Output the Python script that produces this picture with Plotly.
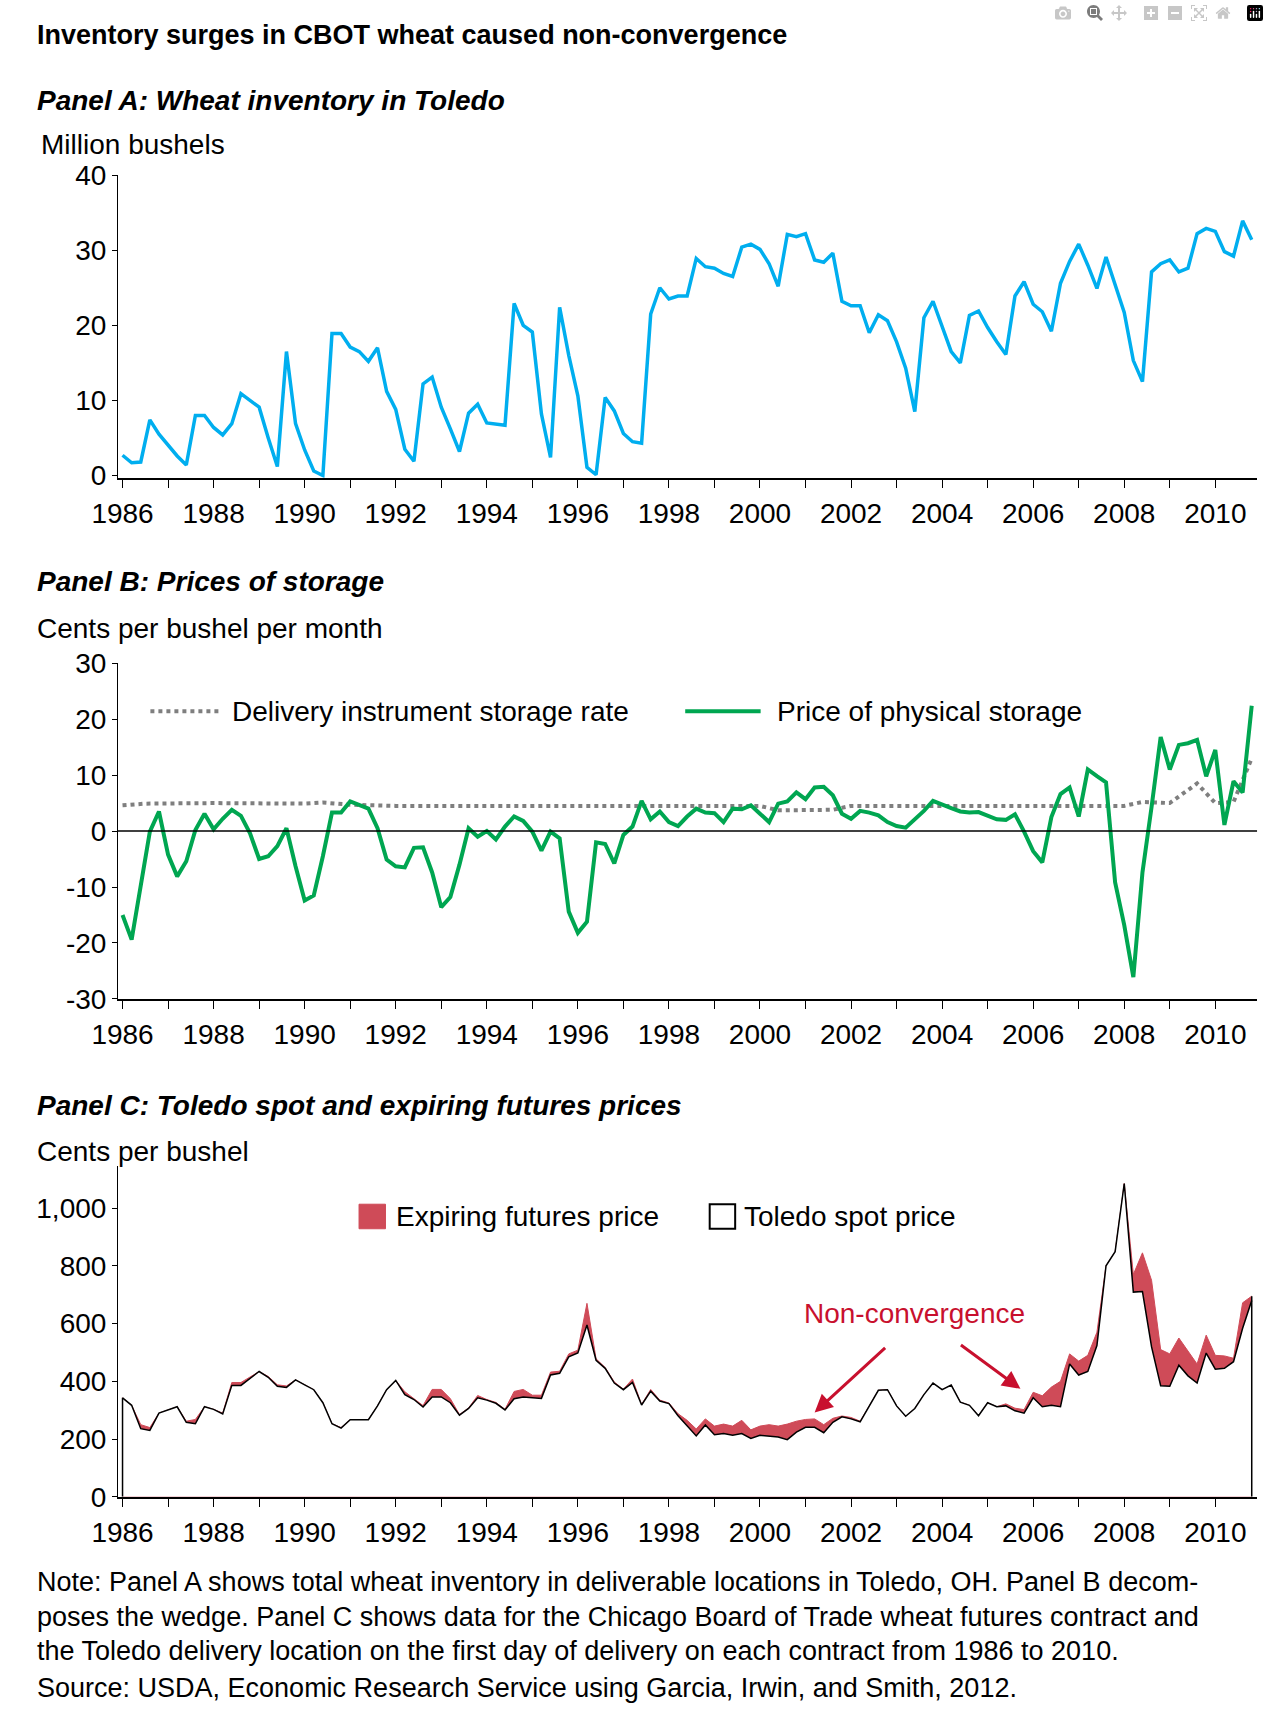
import plotly.graph_objects as go

# Panel A
inv_year = [1986.0,1986.2,1986.4,1986.6,1986.8,1987.0,1987.2,1987.4,1987.6,1987.8,1988.0,1988.2,1988.4,1988.6,1989.0,1989.2,1989.4,1989.6,1989.8,1990.0,1990.2,1990.4,1990.6,1990.8,1991.0,1991.2,1991.4,1991.6,1991.8,1992.0,1992.2,1992.4,1992.6,1992.8,1993.0,1993.2,1993.4,1993.6,1993.8,1994.0,1994.2,1994.4,1994.6,1994.8,1995.0,1995.2,1995.4,1995.6,1995.8,1996.0,1996.2,1996.4,1996.6,1996.8,1997.0,1997.2,1997.4,1997.6,1997.8,1998.0,1998.2,1998.4,1998.6,1998.8,1999.0,1999.2,1999.4,1999.6,1999.8,2000.0,2000.2,2000.4,2000.6,2000.8,2001.0,2001.2,2001.4,2001.6,2001.8,2002.0,2002.2,2002.4,2002.6,2002.8,2003.0,2003.2,2003.4,2003.6,2003.8,2004.0,2004.2,2004.4,2004.6,2004.8,2005.0,2005.2,2005.4,2005.6,2005.8,2006.0,2006.2,2006.4,2006.6,2006.8,2007.0,2007.2,2007.4,2007.6,2007.8,2008.0,2008.2,2008.4,2008.6,2008.8,2009.0,2009.2,2009.4,2009.6,2009.8,2010.0,2010.2,2010.4,2010.6,2010.8]
inventory = [2.7,1.7,1.8,7.4,5.5,4.0,2.6,1.4,8.0,8.0,6.4,5.4,6.9,10.9,9.1,5.0,1.2,16.5,6.9,3.4,0.6,0.0,18.9,18.9,17.1,16.5,15.2,17.0,11.2,8.8,3.5,1.9,12.2,13.1,9.1,6.2,3.2,8.3,9.5,7.0,6.8,6.7,22.9,20.0,19.1,8.2,2.4,22.4,16.0,10.6,1.1,0.1,10.4,8.6,5.6,4.5,4.3,21.5,25.0,23.5,23.9,23.9,28.9,27.8,27.6,26.9,26.5,30.4,30.8,30.1,28.2,25.2,32.1,31.8,32.2,28.7,28.4,29.6,23.2,22.6,22.6,19.0,21.4,20.6,17.8,14.3,8.5,21.0,23.2,20.0,16.5,15.0,21.3,21.9,19.7,17.8,16.1,23.9,25.8,22.8,21.8,19.2,25.6,28.5,30.8,28.0,24.9,29.1,25.4,21.7,15.3,12.5,27.1,28.2,28.7,27.1,27.6,32.2,32.9,32.5,29.8,29.2,33.9,31.4]

# Panel B
stor_year = [1986.0,1986.2,1986.6,1986.8,1987.0,1987.2,1987.4,1987.6,1987.8,1988.0,1988.2,1988.4,1988.6,1988.8,1989.0,1989.2,1989.4,1989.6,1989.8,1990.0,1990.2,1990.4,1990.6,1990.8,1991.0,1991.2,1991.4,1991.6,1991.8,1992.0,1992.2,1992.4,1992.6,1992.8,1993.0,1993.2,1993.4,1993.6,1993.8,1994.0,1994.2,1994.4,1994.6,1994.8,1995.0,1995.2,1995.4,1995.6,1995.8,1996.0,1996.2,1996.4,1996.6,1996.8,1997.0,1997.2,1997.4,1997.6,1997.8,1998.0,1998.2,1998.4,1998.6,1998.8,1999.0,1999.2,1999.4,1999.6,1999.8,2000.0,2000.2,2000.4,2000.6,2000.8,2001.0,2001.2,2001.4,2001.6,2001.8,2002.0,2002.2,2002.4,2002.6,2002.8,2003.0,2003.2,2003.4,2003.6,2003.8,2004.0,2004.2,2004.4,2004.6,2004.8,2005.0,2005.2,2005.4,2005.6,2005.8,2006.0,2006.2,2006.4,2006.6,2006.8,2007.0,2007.2,2007.4,2007.6,2007.8,2008.0,2008.2,2008.4,2008.6,2008.8,2009.0,2009.2,2009.4,2009.6,2009.8,2010.0,2010.2,2010.4,2010.6,2010.8]
physical_storage = [-15.0,-19.4,-0.1,3.5,-4.2,-8.1,-5.4,0.2,3.1,0.3,2.2,3.8,2.7,-0.4,-5.0,-4.5,-2.7,0.5,-6.3,-12.4,-11.5,-4.5,3.3,3.3,5.3,4.6,4.0,0.5,-5.1,-6.3,-6.5,-3.0,-2.9,-7.4,-13.6,-11.8,-6.0,0.5,-1.0,0.0,-1.5,0.8,2.6,1.8,-0.1,-3.5,-0.1,-1.3,-14.4,-18.2,-16.2,-2.0,-2.3,-5.8,-0.7,0.8,5.4,2.1,3.5,1.6,0.9,2.6,4.0,3.3,3.2,1.6,4.0,3.9,4.6,3.1,1.6,4.9,5.3,6.9,5.7,7.8,7.9,6.4,3.1,2.2,3.6,3.3,2.8,1.6,0.9,0.6,2.1,3.6,5.4,4.7,4.1,3.5,3.3,3.4,2.8,2.1,2.0,3.0,-0.1,-3.6,-5.6,2.5,6.6,7.8,2.6,11.0,9.8,8.7,-9.2,-16.8,-26.1,-7.4,4.3,16.8,11.0,15.4,15.7,16.3,9.8,14.5,1.1,8.9,6.9,22.4]
rate_year = [1986.0,1986.5,1988.0,1990.0,1990.4,1991.0,1992.0,1994.0,1996.0,1996.6,1998.0,2000.0,2000.4,2001.6,2002.0,2004.0,2006.0,2008.0,2008.4,2009.0,2009.6,2010.0,2010.4,2010.8]
delivery_rate = [4.6,4.9,5.0,4.9,5.1,4.7,4.5,4.5,4.5,4.6,4.5,4.5,3.7,3.8,4.5,4.5,4.5,4.5,5.2,5.0,8.5,5.0,5.2,13.0]

# Panel C
price_year = [1986.0,1986.2,1986.4,1986.6,1986.8,1987.0,1987.2,1987.4,1987.6,1987.8,1988.0,1988.2,1988.4,1988.6,1988.8,1989.0,1989.2,1989.4,1989.6,1989.8,1990.0,1990.2,1990.4,1990.6,1990.8,1991.0,1991.2,1991.4,1991.6,1991.8,1992.0,1992.2,1992.4,1992.6,1992.8,1993.0,1993.2,1993.4,1993.6,1993.8,1994.0,1994.2,1994.4,1994.6,1994.8,1995.0,1995.2,1995.4,1995.6,1995.8,1996.0,1996.2,1996.4,1996.6,1996.8,1997.0,1997.2,1997.4,1997.6,1997.8,1998.0,1998.2,1998.4,1998.6,1998.8,1999.0,1999.2,1999.4,1999.6,1999.8,2000.0,2000.2,2000.4,2000.6,2000.8,2001.0,2001.2,2001.4,2001.6,2001.8,2002.0,2002.2,2002.4,2002.6,2002.8,2003.0,2003.2,2003.4,2003.6,2003.8,2004.0,2004.2,2004.4,2004.6,2004.8,2005.0,2005.2,2005.4,2005.6,2005.8,2006.0,2006.2,2006.4,2006.6,2006.8,2007.0,2007.2,2007.4,2007.6,2007.8,2008.0,2008.2,2008.4,2008.6,2008.8,2009.0,2009.2,2009.4,2009.6,2009.8,2010.0,2010.2,2010.4,2010.6,2010.8]
spot_price = [343,317,236,230,290,301,312,258,253,312,303,287,386,386,411,434,414,383,379,405,388,371,326,253,238,267,267,267,315,371,403,354,337,311,346,346,326,283,306,343,335,324,301,340,346,343,341,422,428,485,498,595,473,445,394,371,396,318,366,332,323,281,247,211,249,215,219,213,219,202,213,210,207,198,224,241,241,222,258,277,270,260,315,369,371,315,279,306,354,394,371,387,328,317,281,326,312,315,298,290,343,312,317,312,460,422,434,524,800,849,1085,709,711,519,385,383,456,419,394,498,442,445,468,584,680]
futures_price = [343,317,250,240,290,301,312,262,268,312,303,290,396,396,415,434,417,388,384,405,388,371,326,253,240,267,267,267,315,371,403,364,340,316,372,372,340,285,308,351,337,327,303,365,372,352,352,432,435,495,508,670,478,448,398,373,408,320,372,335,325,288,265,235,270,245,252,245,265,232,245,250,245,252,262,268,270,250,272,280,275,262,315,369,371,315,279,306,354,394,371,387,328,317,281,326,312,322,307,302,362,350,380,400,495,470,490,570,800,849,1085,770,845,750,510,495,550,505,460,560,490,488,480,672,695]

legend_b = ["Delivery instrument storage rate", "Price of physical storage"]
legend_c = ["Expiring futures price", "Toledo spot price"]

FONT = "Liberation Sans, Arial, Helvetica, sans-serif"
W, H = 1269, 1723
XR = [1985.9, 2010.92]
TXT = 28

def px(x): return x / W
def py(y): return 1 - y / H

fig = go.Figure()
fig.add_trace(go.Scatter(x=inv_year, y=inventory, mode="lines", line=dict(color="#00aeef", width=3.5),
                         xaxis="x", yaxis="y", showlegend=False))
fig.add_trace(go.Scatter(x=rate_year, y=delivery_rate, mode="lines", line=dict(color="#7f7f7f", width=4, dash="dot"),
                         xaxis="x2", yaxis="y2", showlegend=False))
fig.add_trace(go.Scatter(x=stor_year, y=physical_storage, mode="lines", line=dict(color="#00a651", width=4),
                         xaxis="x2", yaxis="y2", showlegend=False))
fig.add_trace(go.Scatter(x=price_year, y=futures_price, mode="lines", fill="tozeroy", fillcolor="#cf4b58",
                         line=dict(color="#cf4b58", width=1), xaxis="x3", yaxis="y3", showlegend=False))
fig.add_trace(go.Scatter(x=price_year, y=spot_price, mode="lines", fill="tozeroy", fillcolor="white",
                         line=dict(color="black", width=1.5), xaxis="x3", yaxis="y3", showlegend=False))
fig.add_trace(go.Scatter(x=[price_year[0], price_year[0]], y=[0, spot_price[0]], mode="lines",
                         line=dict(color="black", width=1.5), xaxis="x3", yaxis="y3", showlegend=False))
fig.add_trace(go.Scatter(x=[price_year[-1], price_year[-1]], y=[0, futures_price[-1]], mode="lines",
                         line=dict(color="black", width=1.5), xaxis="x3", yaxis="y3", showlegend=False))

def xax(anchor):
    return dict(range=XR, domain=[0.074, 0.9905], anchor=anchor, tickvals=list(range(1986, 2011, 2)),
                ticks="outside", ticklen=8, tickcolor="black", showline=True, linecolor="black", linewidth=1.5,
                showgrid=False, zeroline=False, tickfont=dict(size=TXT, color="black"), ticklabelstandoff=2,
                minor=dict(tickvals=list(range(1987, 2011, 2)), ticks="outside", ticklen=8, tickcolor="black"))

def yax(anchor, rng, dom, tv, tt):
    return dict(range=rng, domain=dom, anchor=anchor, tickvals=tv, ticktext=tt, ticks="outside", ticklen=5,
                tickcolor="black", showline=True, linecolor="black", linewidth=1, showgrid=False, zeroline=False,
                tickfont=dict(size=TXT, color="black"))

fig.update_layout(
    width=W, height=H, margin=dict(l=0, r=0, t=0, b=0), paper_bgcolor="white", plot_bgcolor="white",
    font=dict(family=FONT, color="black"), showlegend=False,
    xaxis=xax("y"), yaxis=yax("x", [-0.3, 40], [0.7265, 0.9054], [0, 10, 20, 30, 40], ["0", "10", "20", "30", "40"]),
    xaxis2=xax("y2"), yaxis2=yax("x2", [-30, 30], [0.4185, 0.6169], [-30, -20, -10, 0, 10, 20, 30],
                                  ["-30", "-20", "-10", "0", "10", "20", "30"]),
    xaxis3=xax("y3"), yaxis3=yax("x3", [0, 1146], [0.1242, 0.3198], [0, 200, 400, 600, 800, 1000],
                                  ["0", "200", "400", "600", "800", "1,000"]),
)
fig.add_shape(type="line", xref="x2", yref="y2", x0=XR[0], x1=XR[1], y0=0, y1=0, line=dict(color="black", width=1.5))

# legend panel B
fig.add_shape(type="line", xref="paper", yref="paper", x0=px(127), x1=px(199), y0=py(709), y1=py(709),
              line=dict(color="#7f7f7f", width=4, dash="dot"))
fig.add_shape(type="line", xref="paper", yref="paper", x0=px(673), x1=px(750), y0=py(709), y1=py(709),
              line=dict(color="#00a651", width=4))
fig.add_annotation(text=legend_b[0], xref="paper", yref="paper", x=px(208), y=py(709), xanchor="left",
                   yanchor="middle", showarrow=False, font=dict(size=TXT))
fig.add_annotation(text=legend_b[1], xref="paper", yref="paper", x=px(765), y=py(709), xanchor="left",
                   yanchor="middle", showarrow=False, font=dict(size=TXT))
# legend panel C
fig.add_shape(type="rect", xref="paper", yref="paper", x0=px(340), x1=px(367), y0=py(1236), y1=py(1211),
              fillcolor="#cf4b58", line=dict(color="#cf4b58", width=1))
fig.add_shape(type="rect", xref="paper", yref="paper", x0=px(698), x1=px(724), y0=py(1236), y1=py(1211),
              fillcolor="white", line=dict(color="black", width=2))
fig.add_annotation(text=legend_c[0], xref="paper", yref="paper", x=px(376), y=py(1224), xanchor="left",
                   yanchor="middle", showarrow=False, font=dict(size=TXT))
fig.add_annotation(text=legend_c[1], xref="paper", yref="paper", x=px(731), y=py(1224), xanchor="left",
                   yanchor="middle", showarrow=False, font=dict(size=TXT))

texts = [
    ("Inventory surges in CBOT wheat caused non-convergence", 20, "<b>%s</b>", 27, 9),
    ("Panel A: Wheat inventory in Toledo", 87, "<b><i>%s</i></b>", 28, 9),
    ("Million bushels", 132, "%s", TXT, 13),
    ("Panel B: Prices of storage", 577, "<b><i>%s</i></b>", 28, 9),
    ("Cents per bushel per month", 625, "%s", TXT, 9),
    ("Panel C: Toledo spot and expiring futures prices", 1110, "<b><i>%s</i></b>", 28, 9),
    ("Cents per bushel", 1157, "%s", TXT, 9),
    ("Note: Panel A shows total wheat inventory in deliverable locations in Toledo, OH. Panel B decom-", 1596, "%s", 27, 9),
    ("poses the wedge. Panel C shows data for the Chicago Board of Trade wheat futures contract and", 1631, "%s", 27, 9),
    ("the Toledo delivery location on the first day of delivery on each contract from 1986 to 2010.", 1666, "%s", 27, 9),
    ("Source: USDA, Economic Research Service using Garcia, Irwin, and Smith, 2012.", 1704, "%s", 27, 9),
]
for t, ypx, fmt, fs, xoff in texts:
    fig.add_annotation(text=fmt % t, xref="paper", yref="paper", x=px(xoff), y=py(ypx),
                       xanchor="left", yanchor="middle", showarrow=False, font=dict(size=fs))

fig.add_annotation(text="Non-convergence", xref="paper", yref="paper", x=px(907), y=py(1322),
                   xanchor="center", yanchor="middle", showarrow=False, font=dict(size=TXT, color="#c8102e"))
for hx, hy, ax, ay in [(2001.2, 292, 72, -66), (2005.72, 374, -61, -45)]:
    fig.add_annotation(x=hx, y=hy, xref="x3", yref="y3", ax=ax, ay=ay, showarrow=True, arrowhead=2,
                       arrowsize=1.2, arrowwidth=3, arrowcolor="#c8102e", text="")

fig.write_html("out.html", post_script="document.body.style.margin='0';document.documentElement.style.overflow='hidden';document.body.style.overflow='hidden';")
